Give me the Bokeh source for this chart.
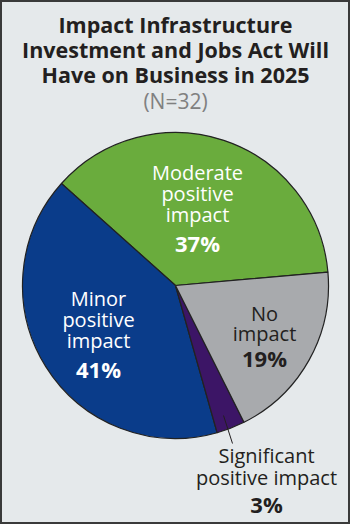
import numpy as np
from bokeh.plotting import figure
from bokeh.models import Range1d, ColumnDataSource
from bokeh.core.properties import value
from bokeh.embed import file_html
from bokeh.resources import INLINE

# ---- data ----
title_lines = ["Impact Infrastructure", "Investment and Jobs Act Will", "Have on Business in 2025"]
subtitle = "(N=32)"
categories = ["Moderate positive impact", "Minor positive impact", "Significant positive impact", "No impact"]
values = [37, 41, 3, 19]
colors = ["#6aac3d", "#0a3c8a", "#3c1566", "#a8aaad"]
label_lines = [["Moderate", "positive", "impact"], ["Minor", "positive", "impact"],
               ["Significant", "positive impact"], ["No", "impact"]]
pct_labels = [f"{v}%" for v in values]

W, H = 350, 524
FONT = "Open Sans"

p = figure(width=W, height=H, output_backend="svg", toolbar_location=None,
           x_range=Range1d(0, W), y_range=Range1d(0, H), min_border=0)
p.axis.visible = False
p.grid.visible = False
p.background_fill_color = "#e5e9eb"
p.border_fill_color = "#e5e9eb"
p.outline_line_color = "#3a3a3a"
p.outline_line_width = 3

def Y(py):
    return H - py

# pie
cx, cy, r = 175, Y(285), 153
start0 = np.deg2rad(5)
vals = np.array(values, dtype=float)
ang = vals / vals.sum() * 2 * np.pi
ends = start0 + np.cumsum(ang)
starts = ends - ang
src = ColumnDataSource(dict(start=starts, end=ends, color=colors, cat=categories))
p.wedge(x=cx, y=cy, radius=r, start_angle="start", end_angle="end",
        fill_color="color", line_color="#222222", line_width=1.2, source=src)

# title
for i, t in enumerate(title_lines):
    p.text(x=[175], y=[Y(24 + 25 * i)], text=[t], text_font=value(FONT), text_font_style="bold",
           text_font_size="21.5px", text_align="center", text_baseline="middle", text_color="#231f20")
p.text(x=[175], y=[Y(100)], text=[subtitle], text_font=value(FONT), text_font_size="21px",
       text_align="center", text_baseline="middle", text_color="#808080")

# labels: (x, first line y, line step, pct y, color)
label_pos = [(197, 172, 21, 242, "white"), (98, 298, 21, 368, "white"),
             (266, 455, 22, 503, "#231f20"), (264, 313, 20, 357, "#231f20")]
for lines, pct, (lx, ly, step, py, col) in zip(label_lines, pct_labels, label_pos):
    for j, t in enumerate(lines):
        p.text(x=[lx], y=[Y(ly + step * j)], text=[t], text_font=value(FONT), text_font_size="20px",
               text_align="center", text_baseline="middle", text_color=col)
    p.text(x=[lx], y=[Y(py)], text=[pct], text_font=value(FONT), text_font_style="bold",
           text_font_size="22px", text_align="center", text_baseline="middle", text_color=col)

# leader line for small slice
p.segment(x0=[223], y0=[Y(415)], x1=[232], y1=[Y(443)], line_color="#231f20", line_width=1)

open("out.html", "w").write(file_html(p, INLINE))
